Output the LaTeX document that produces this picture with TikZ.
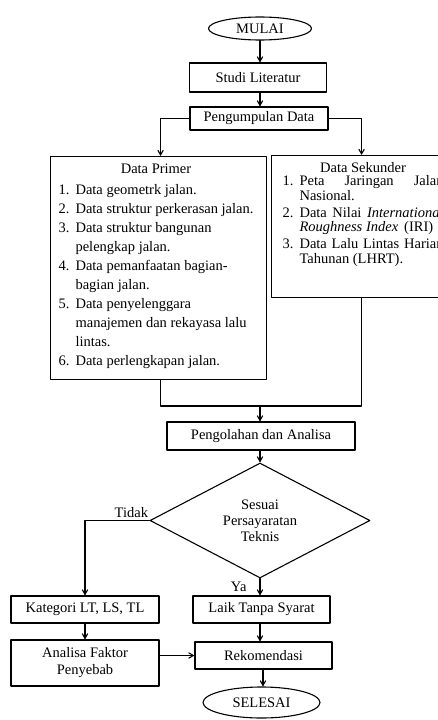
\documentclass[tikz,border=0pt]{standalone}
\usepackage{fontspec}
\setmainfont{Liberation Serif}
\usepackage{tikz}
\usetikzlibrary{arrows}
\usetikzlibrary{shapes.geometric}

\begin{document}
\begin{tikzpicture}[line cap=round,line join=round,>=angle 60,x=1pt,y=-1pt,
    every node/.style={font=\fontsize{14.5}{17}\selectfont},
    kotak/.style={draw,rectangle,line width=1.1pt,inner sep=0pt},
    oval/.style={draw,ellipse,line width=1.1pt,inner sep=0pt},
    garis/.style={line width=1.1pt}]
    \useasboundingbox (0,0) rectangle (438,720);
    % \draw[help lines,step=20] (0,0) grid (438,720);
    \node[oval,minimum width=103pt,minimum height=23pt] (mulai) at (260,28.5) {MULAI};
    \node[kotak,minimum width=137pt,minimum height=29pt] (studi) at (258,77.5) {Studi Literatur};
    \node[kotak,minimum width=138pt,minimum height=23pt] (kumpul) at (259,118.5) {Pengumpulan Data};
    \node[kotak,anchor=north west,minimum width=216pt,minimum height=223pt] (primer) at (50,156) {%
      \begin{minipage}[c][223pt][t]{200pt}
        \fontsize{14.5}{19}\selectfont
        \vspace*{4pt}\noindent
        \begin{tabular}{@{}l@{}l@{}}
          \multicolumn{2}{c}{Data Primer}\\[2pt]
          \makebox[17pt][l]{1.} & Data geometrk jalan.\\
          2. & Data struktur perkerasan jalan.\\
          3. & Data struktur bangunan\\
             & pelengkap jalan.\\
          4. & Data pemanfaatan bagian-\\
             & bagian jalan.\\
          5. & Data penyelenggara\\
             & manajemen dan rekayasa lalu\\
             & lintas.\\
          6. & Data perlengkapan jalan.
        \end{tabular}
      \end{minipage}};
    \node[kotak,anchor=north west,minimum width=180pt,minimum height=142pt] (sekunder) at (271,155) {%
      \begin{minipage}[c][142pt][t]{180pt}
        \fontsize{14.5}{14}\selectfont
        \vspace*{7pt}\noindent\hspace*{11pt}%
        \begin{tabular}{@{}l@{}l@{}}
          \multicolumn{2}{c}{Data Sekunder}\\[-1pt]
          \makebox[17pt][l]{1.} & \makebox[144pt][s]{Peta Jaringan Jalan}\\
             & Nasional.\\[3pt]
          2. & \makebox[144pt][s]{Data Nilai \textit{International}}\\
             & \textit{Roughness Index}\ \,(IRI)\\[3pt]
          3. & \makebox[144pt][s]{Data Lalu Lintas Harian}\\
             & Tahunan (LHRT).
        \end{tabular}
      \end{minipage}};
    \coordinate (gabung) at (260,406);
    \node[kotak,minimum width=188pt,minimum height=28pt] (olah) at (261,436) {Pengolahan dan Analisa};
    \node[draw,diamond,line width=1.1pt,inner sep=0pt,aspect=1.9,minimum width=220pt,minimum height=115pt,
      align=center,font=\fontsize{14.5}{16}\selectfont] (sesuai) at (260,520.5) {Sesuai\\Persayaratan\\Teknis};
    \node[kotak,minimum width=148pt,minimum height=27pt] (kategori) at (85,609.5) {Kategori LT, LS, TL};
    \node[kotak,minimum width=137pt,minimum height=27pt] (laik) at (261.5,609.5) {Laik Tanpa Syarat};
    \node[kotak,minimum width=148pt,minimum height=46pt,align=center] (analisa) at (85,663) {Analisa Faktor\\Penyebab};
    \node[kotak,minimum width=137pt,minimum height=27pt] (rekom) at (263.5,655.5) {Rekomendasi};
    \node[oval,minimum width=117pt,minimum height=31pt] (selesai) at (261.5,702.5) {SELESAI};
    % alur
    \draw[garis,->] (mulai) -- (mulai.south |- studi.north);
    \draw[garis,->] (mulai.south |- studi.south) -- (mulai.south |- kumpul.north);
    \draw[garis,->] (kumpul.west) -| ([xshift=2pt]primer.north);
    \draw[garis,->] (kumpul.east) -| (sekunder.north);
    \draw[garis] ([xshift=2pt]primer.south) |- (gabung) -| (sekunder.south);
    \draw[garis,->] (gabung) -- (gabung |- olah.north);
    \draw[garis,->] (sesuai.north |- olah.south) -- (sesuai.north);
    \draw[garis,->] (sesuai.west) -| node[pos=0.14,above,inner sep=2pt] (tidak) {Tidak} (kategori.north);
    \draw[garis,->] (sesuai.south) -- node[anchor=east,inner sep=0pt,xshift=-13pt] (ya) {Ya} (sesuai.south |- laik.north);
    \draw[garis,->] (kategori) -- (analisa);
    \draw[garis,->] (sesuai.south |- laik.south) -- (sesuai.south |- rekom.north);
    \draw[garis,->] (analisa.east |- rekom.west) -- (rekom.west);
    \draw[garis,->] ([xshift=-0.5pt]rekom.south) -- ([xshift=-0.5pt]rekom.south |- selesai.north);
\end{tikzpicture}
\end{document}
